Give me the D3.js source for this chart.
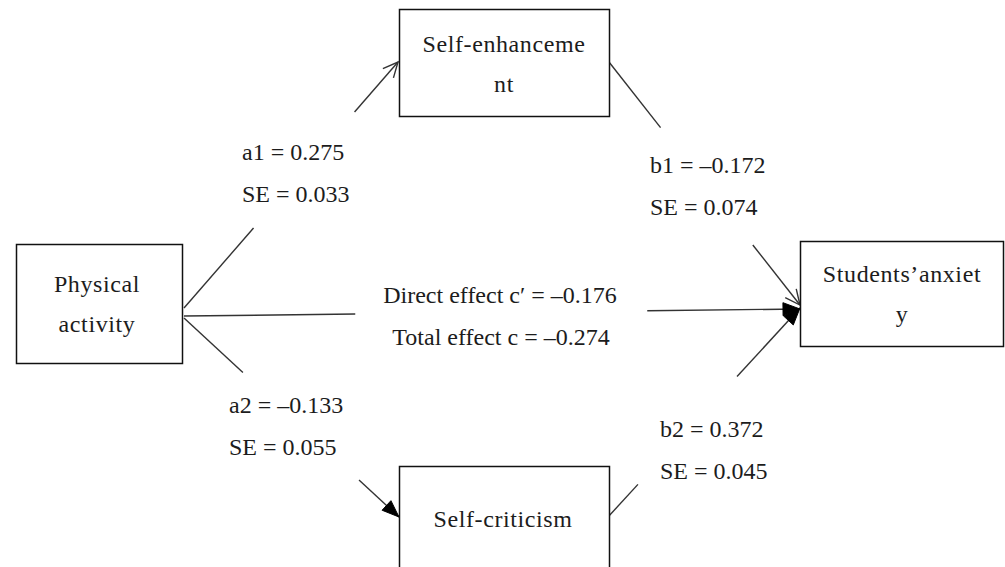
<!DOCTYPE html>
<html><head><meta charset="utf-8">
<script src="https://cdn.jsdelivr.net/npm/d3@7"></script>
<style>html,body{margin:0;padding:0;background:#fff;} svg{display:block}</style>
</head><body>
<svg id="c" width="1005" height="567"></svg>
<script>
// ---------------- data ----------------
const nodeIds = ["enh", "pa", "anx", "crit"];
const nodeLabels = [["Self-enhanceme", "nt"], ["Physical", "activity"], ["Students\u2019anxiet", "y"], ["Self-criticism"]];
const pathIds = ["a1", "b1", "a2", "b2", "c"];
const pathFrom = ["pa", "enh", "pa", "crit", "pa"];
const pathTo = ["enh", "anx", "crit", "anx", "anx"];
const coefNames = ["a1", "b1", "a2", "b2"];
const coefValues = [0.275, -0.172, -0.133, 0.372];
const seValues = [0.033, 0.074, 0.055, 0.045];
const directEffect = -0.176;
const totalEffect = -0.274;

// ---------------- layout ----------------
const boxLayout = {
  enh:  {x0: 399, y0: 9,   x1: 609,  y1: 116, cx: 504, base: 52},
  pa:   {x0: 16,  y0: 244, x1: 182,  y1: 363, cx: 97,  base: 292},
  anx:  {x0: 800, y0: 241, x1: 1003, y1: 346, cx: 902, base: 282},
  crit: {x0: 399, y0: 466, x1: 609,  y1: 620, cx: 503, base: 527}
};
const arrowLayout = {
  a1: {p0: [184, 308], p1: [398, 62],  gap: [0.325, 0.797], head: "open"},
  b1: {p0: [609, 62],  p1: [800, 305], gap: [0.27, 0.753],  head: "open"},
  a2: {p0: [184, 318], p1: [399, 517], gap: [0.274, 0.814], head: "fill"},
  b2: {p0: [608, 517], p1: [800, 308], gap: [0.156, 0.672], head: "fill"},
  c:  {p0: [184, 316], p1: [800, 309], gap: [0.278, 0.752], head: "fill"}
};
const labelLayout = {
  a1: {x: 242, y: 160}, b1: {x: 650, y: 173}, a2: {x: 229, y: 413}, b2: {x: 660, y: 437}
};
const lineGap = 42;
const FONT = "'Liberation Serif','Times New Roman',serif";
const FS = 24;
const TEXT = "#1c1c1c", LINE = "#333";

const fmt = d3.formatLocale({decimal: ".", thousands: ",", grouping: [3], currency: ["", ""], minus: "\u2013"}).format(".3f");

const svg = d3.select("#c");

// ---------------- arrows ----------------
const lineGen = d3.line();
const arrowG = svg.append("g");
pathIds.forEach(id => {
  const a = arrowLayout[id];
  const sx = d3.scaleLinear().domain([0, 1]).range([a.p0[0], a.p1[0]]);
  const sy = d3.scaleLinear().domain([0, 1]).range([a.p0[1], a.p1[1]]);
  const pt = t => [sx(t), sy(t)];
  const segs = [[0, a.gap[0]], [a.gap[1], 1]];
  segs.forEach(([t0, t1]) => {
    arrowG.append("path").attr("d", lineGen([pt(t0), pt(t1)]))
      .attr("fill", "none").attr("stroke", LINE).attr("stroke-width", 1.4);
  });
  // arrowhead
  const dx = a.p1[0] - a.p0[0], dy = a.p1[1] - a.p0[1];
  const L = Math.hypot(dx, dy), ux = dx / L, uy = dy / L;
  const px = -uy, py = ux;
  const tip = pt(1);
  if (a.head === "fill") {
    const len = 17, hw = 6.5;
    const b = [tip[0] - ux * len, tip[1] - uy * len];
    arrowG.append("path")
      .attr("d", lineGen([tip, [b[0] + px * hw, b[1] + py * hw], [b[0] - px * hw, b[1] - py * hw]]) + "Z")
      .attr("fill", "#000").attr("stroke", "#000").attr("stroke-width", 1);
  } else {
    const len = 15, hw = 7;
    const b = [tip[0] - ux * len, tip[1] - uy * len];
    arrowG.append("path")
      .attr("d", lineGen([[b[0] + px * hw, b[1] + py * hw], tip, [b[0] - px * hw, b[1] - py * hw]]))
      .attr("fill", "none").attr("stroke", LINE).attr("stroke-width", 1.4);
  }
});

// ---------------- boxes ----------------
const nodeG = svg.selectAll("g.node").data(nodeIds).join("g").attr("class", "node");
nodeG.append("rect")
  .attr("x", d => boxLayout[d].x0 + 0.5).attr("y", d => boxLayout[d].y0 + 0.5)
  .attr("width", d => boxLayout[d].x1 - boxLayout[d].x0)
  .attr("height", d => boxLayout[d].y1 - boxLayout[d].y0)
  .attr("fill", "#fff").attr("stroke", "#111").attr("stroke-width", 1.5);
nodeG.each(function(d, i) {
  const g = d3.select(this), b = boxLayout[d];
  nodeLabels[i].forEach((t, k) => {
    g.append("text").attr("x", b.cx).attr("y", b.base + k * 40)
      .attr("text-anchor", "middle").attr("font-family", FONT).attr("font-size", FS)
      .attr("letter-spacing", "0.6px").attr("fill", TEXT).text(t);
  });
});

// ---------------- coefficient labels ----------------
coefNames.forEach((n, i) => {
  const l = labelLayout[n];
  svg.append("text").attr("x", l.x).attr("y", l.y).attr("font-family", FONT).attr("font-size", FS)
    .attr("fill", TEXT).text(`${n} = ${fmt(coefValues[i])}`);
  svg.append("text").attr("x", l.x).attr("y", l.y + lineGap).attr("font-family", FONT).attr("font-size", FS)
    .attr("fill", TEXT).text(`SE = ${fmt(seValues[i])}`);
});
svg.append("text").attr("x", 500).attr("y", 303).attr("text-anchor", "middle")
  .attr("font-family", FONT).attr("font-size", FS).attr("fill", TEXT)
  .text(`Direct effect c\u2032 = ${fmt(directEffect)}`);
svg.append("text").attr("x", 501).attr("y", 345).attr("text-anchor", "middle")
  .attr("font-family", FONT).attr("font-size", FS).attr("fill", TEXT)
  .text(`Total effect c = ${fmt(totalEffect)}`);
</script>
</body></html>
